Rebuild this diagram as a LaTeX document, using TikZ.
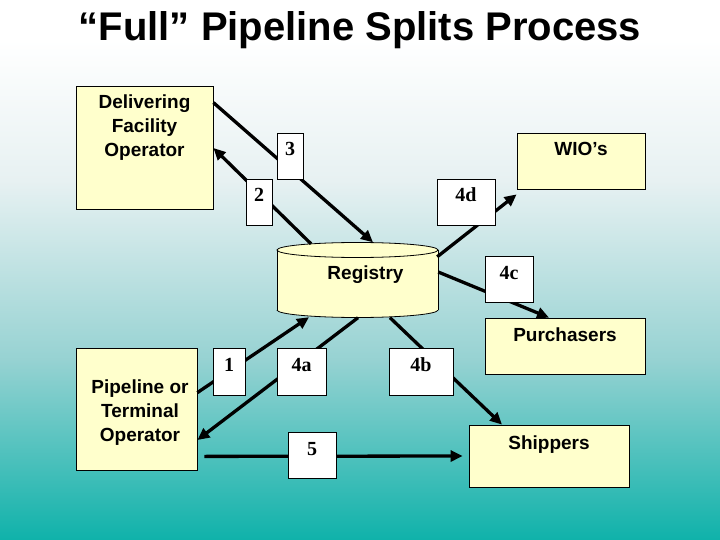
\documentclass[tikz,border=0pt]{standalone}
\usepackage{fontspec}
\setmainfont{Liberation Sans}
\newfontfamily\numfont{Liberation Serif}
\usetikzlibrary{arrows.meta,calc}
\definecolor{boxyellow}{RGB}{255,255,204}
\definecolor{bgA}{RGB}{231,241,242}
\definecolor{bgB}{RGB}{150,210,210}
\definecolor{bgC}{RGB}{15,178,170}
\tikzset{
  mainbox/.style={draw=black, line width=0.8pt, fill=boxyellow, inner sep=0pt},
  numbox/.style={draw=black, line width=0.8pt, fill=white, inner sep=0pt,
    font=\numfont\bfseries\fontsize{20}{24}\selectfont, text height=14pt, text depth=14pt},
  lbl/.style={font=\bfseries\fontsize{19}{24}\selectfont, align=center, inner sep=0pt},
  conn/.style={line width=3.3pt, -{Triangle[length=12pt,width=11pt]}},
  plainconn/.style={line width=3.3pt},
}
\begin{document}
\begin{tikzpicture}[x=1pt,y=-1pt]
\useasboundingbox (0,0) rectangle (720,540);
% background
\fill[white] (0,0) rectangle (720,541);
\shade[top color=white, bottom color=bgA] (0,40) rectangle (720,180.5);
\shade[top color=bgA, bottom color=bgB] (0,180) rectangle (720,360.5);
\shade[top color=bgB, bottom color=bgC] (0,360) rectangle (720,540);
% title
\node[anchor=base, inner sep=0pt, font=\bfseries\fontsize{40}{48}\selectfont] (title) at (360,41) {“Full” Pipeline Splits Process};
% main boxes
\node[mainbox, minimum width=137pt, minimum height=123pt] (dfo) at (144.5,147.5) {};
\node[lbl] (dfot) at (144.5,128) {Delivering\\Facility\\Operator};
\node[mainbox, minimum width=128pt, minimum height=56pt] (wio) at (581,161) {};
\node[lbl, anchor=base] (wiot) at (581,155.5) {WIO’s};
\node[mainbox, minimum width=160pt, minimum height=56pt] (pur) at (565,346) {};
\node[lbl, anchor=base] (purt) at (565,341) {Purchasers};
\node[mainbox, minimum width=160pt, minimum height=62pt] (shp) at (549,456) {};
\node[lbl, anchor=base] (shpt) at (549,449) {Shippers};
\node[mainbox, minimum width=121pt, minimum height=122pt] (pto) at (136.5,409) {};
\node[lbl] (ptot) at (140,413) {Pipeline or\\Terminal\\Operator};
% registry cylinder
\node[minimum width=161pt, minimum height=75pt, inner sep=0pt] (reg) at (357.5,280) {};
\fill[boxyellow] (277,250) rectangle (438,310);
\fill[boxyellow] (357.5,310) ellipse [x radius=80.5, y radius=7.5];
\begin{scope}
  \clip (270,310) rectangle (445,325);
  \draw[line width=0.8pt] (357.5,310) ellipse [x radius=80.5, y radius=7.5];
\end{scope}
\draw[line width=0.8pt] (277,250) -- (277,310) (438,250) -- (438,310);
\draw[line width=0.8pt, fill=boxyellow] (357.5,250) ellipse [x radius=80.5, y radius=7.5];
\node[lbl, anchor=base] (regt) at (365.5,279.5) {Registry};
% connectors
\draw[conn] ($(dfo.north east)+(0,17)$) -- ($(reg.north)+(15.5,0)$);
\draw[conn] ($(reg.north)+(-46.5,1.5)$) -- ($(dfo.east)+(0,0.5)$);
\draw[conn] ($(reg.north east)+(-1,14.5)$) -- ($(wio.south west)+(0,5)$);
\draw[conn] ($(reg.east)+(0,-8)$) -- ($(pur.north)+(-16,0)$);
\draw[conn] ($(pto.north east)+(0,45)$) -- ($(reg.south)+(-48.5,-0.5)$);
\draw[conn] ($(reg.south)+(0.5,0)$) -- ($(pto.east)+(0,31)$);
\draw[conn] ($(reg.south)+(32.5,0)$) -- ($(shp.north)+(-47,0)$);
\draw[conn] ($(pto.south east)+(7,-14)$) -- ($(shp.west)+(-6,0)$);
% number boxes
\node[numbox, minimum width=26pt, minimum height=46pt] (n3) at (290,156) {3};
\node[numbox, minimum width=26pt, minimum height=46pt] (n2) at (259,202) {2};
\node[numbox, minimum width=58pt, minimum height=46pt] (n4d) at (466,202) {4d};
\node[numbox, minimum width=48pt, minimum height=46pt] (n4c) at (509,279) {4c};
\node[numbox, minimum width=32pt, minimum height=47pt] (n1) at (229,371.5) {1};
\node[numbox, minimum width=49pt, minimum height=47pt] (n4a) at (301.5,371.5) {4a};
\node[numbox, minimum width=64pt, minimum height=47pt] (n4b) at (421,371.5) {4b};
\node[numbox, minimum width=48pt, minimum height=46pt] (n5) at (312,455) {5};
\end{tikzpicture}
\end{document}
